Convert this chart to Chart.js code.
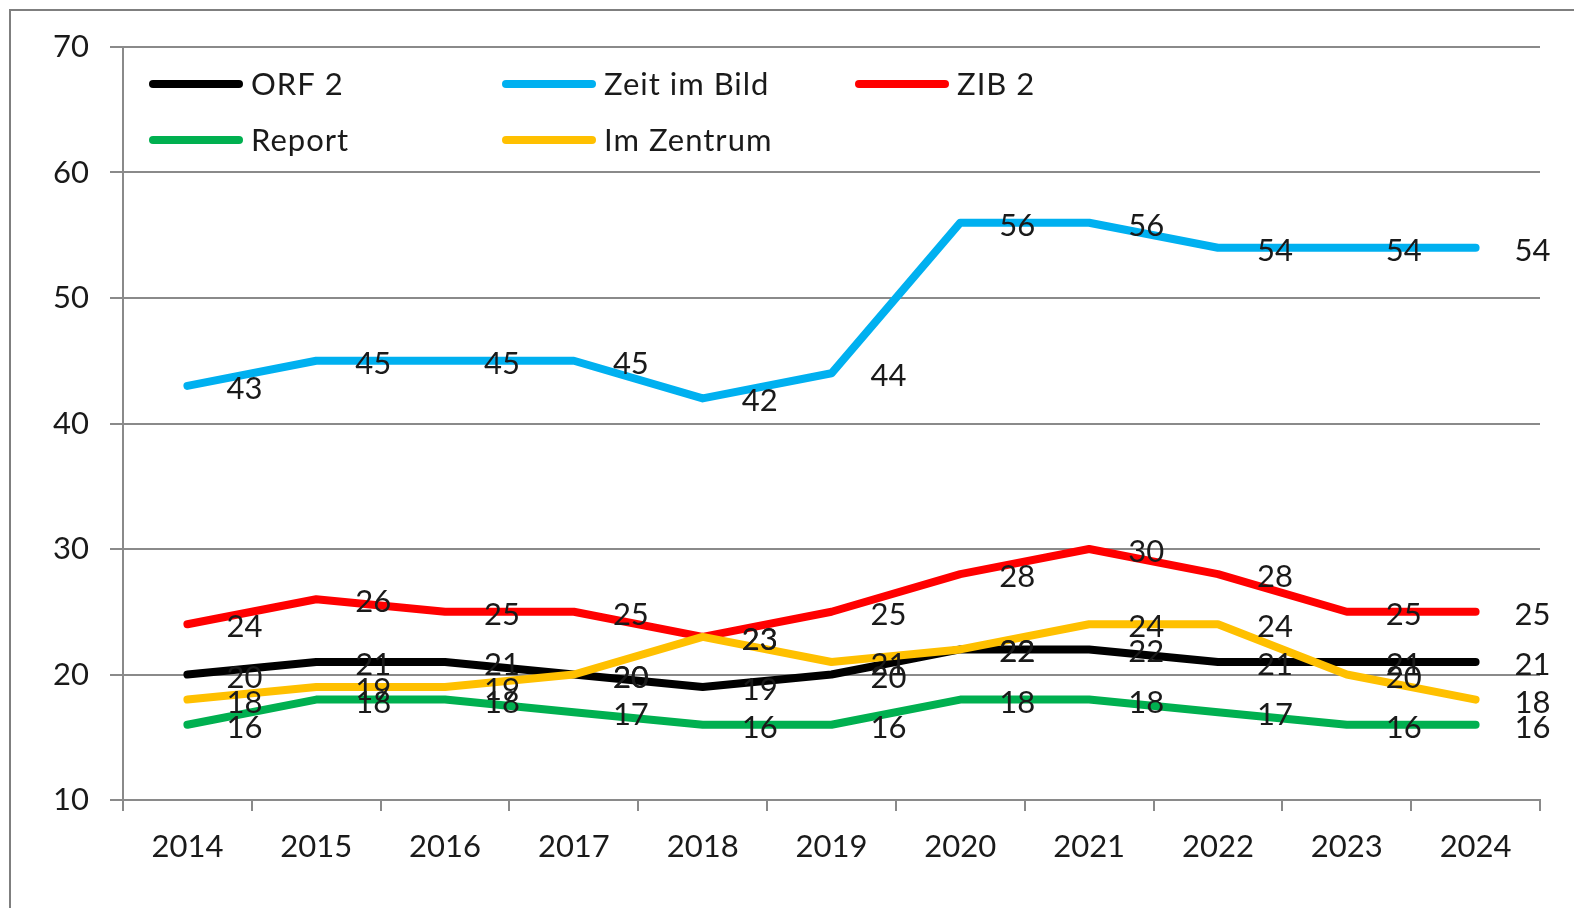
<!DOCTYPE html>
<html>
<head>
<meta charset="utf-8">
<script src="https://cdn.jsdelivr.net/npm/chart.js@4/dist/chart.umd.min.js"></script>
<style>
  html, body { margin: 0; padding: 0; background: #fff; }
  #wrap { position: relative; width: 1574px; height: 908px; }
</style>
</head>
<body>
<div id="wrap"><canvas id="chart" width="1574" height="908"></canvas></div>
<script>
const years = ['2014', '2015', '2016', '2017', '2018', '2019', '2020', '2021', '2022', '2023', '2024'];
const orf2 = [20, 21, 21, 20, 19, 20, 22, 22, 21, 21, 21];
const zeitImBild = [43, 45, 45, 45, 42, 44, 56, 56, 54, 54, 54];
const zib2 = [24, 26, 25, 25, 23, 25, 28, 30, 28, 25, 25];
const report = [16, 18, 18, 17, 16, 16, 18, 18, 17, 16, 16];
const imZentrum = [18, 19, 19, 20, 23, 21, 22, 24, 24, 20, 18];
const yTicks = [10, 20, 30, 40, 50, 60, 70];

const FONT = 'Lato, "Open Sans", sans-serif';
const FSIZE = 31;
const TEXT = '#1a1a1a';
const GRID = '#8a8a8a';

function series(label, data, color, order) {
    return {
        label, data, borderColor: color, backgroundColor: color,
        borderWidth: 8, pointRadius: 0, tension: 0,
        borderCapStyle: 'round', borderJoinStyle: 'round', order
    };
}

// frame around the picture (cut off at right/bottom like the original)
const framePlugin = {
    id: 'frame',
    beforeDraw(chart) {
        const ctx = chart.ctx;
        ctx.save();
        ctx.fillStyle = '#fff';
        ctx.fillRect(0, 0, chart.width, chart.height);
        ctx.strokeStyle = '#7f7f7f';
        ctx.lineWidth = 2;
        ctx.beginPath();
        ctx.moveTo(10, chart.height);
        ctx.lineTo(10, 10);
        ctx.lineTo(chart.width, 10);
        ctx.stroke();
        ctx.restore();
    }
};

// value labels to the right of each point
const labelPlugin = {
    id: 'valueLabels',
    afterDatasetsDraw(chart) {
        const ctx = chart.ctx;
        ctx.save();
        ctx.font = FSIZE + 'px ' + FONT;
        ctx.fillStyle = TEXT;
        ctx.textAlign = 'center';
        ctx.textBaseline = 'middle';
        chart.data.datasets.forEach((ds, i) => {
            chart.getDatasetMeta(i).data.forEach((pt, j) => {
                ctx.fillText(String(ds.data[j]), pt.x + 57, pt.y + 3);
            });
        });
        ctx.restore();
    }
};

// legend drawn inside the plot area, two rows
const legendPlugin = {
    id: 'innerLegend',
    afterDraw(chart) {
        const ctx = chart.ctx;
        const cols = [149, 502, 855];
        const rows = [84, 140];
        const layout = [[0, 0], [1, 0], [2, 0], [0, 1], [1, 1]];
        ctx.save();
        ctx.font = FSIZE + 'px ' + FONT;
        ctx.letterSpacing = '1px';
        ctx.textBaseline = 'middle';
        ctx.textAlign = 'left';
        chart.data.datasets.forEach((ds, i) => {
            const x = cols[layout[i][0]], y = rows[layout[i][1]];
            ctx.strokeStyle = ds.borderColor;
            ctx.lineWidth = 8;
            ctx.lineCap = 'round';
            ctx.beginPath();
            ctx.moveTo(x + 4, y);
            ctx.lineTo(x + 90, y);
            ctx.stroke();
            ctx.fillStyle = TEXT;
            ctx.fillText(ds.label, x + 102, y + 1);
        });
        ctx.restore();
    }
};

new Chart(document.getElementById('chart'), {
    type: 'line',
    data: {
        labels: years,
        datasets: [
            series('ORF 2', orf2, '#000000', 5),
            series('Zeit im Bild', zeitImBild, '#00b0f0', 4),
            series('ZIB 2', zib2, '#ff0000', 3),
            series('Report', report, '#00b050', 2),
            series('Im Zentrum', imZentrum, '#ffc000', 1)
        ]
    },
    options: {
        responsive: false,
        animation: false,
        layout: { padding: { left: 0, top: 47, right: 34, bottom: 0 } },
        plugins: { legend: { display: false }, tooltip: { enabled: false } },
        scales: {
            x: {
                offset: true,
                grid: { offset: true, drawOnChartArea: false, drawTicks: true, tickLength: 11, color: GRID, lineWidth: 2 },
                border: { display: true, color: GRID, width: 2 },
                ticks: { font: { family: FONT, size: FSIZE }, color: TEXT, padding: 17, maxRotation: 0, autoSkip: false },
                afterFit(scale) { scale.height = 108; }
            },
            y: {
                min: 10, max: 70,
                afterBuildTicks(scale) { scale.ticks = yTicks.map(v => ({ value: v })); },
                grid: { color: GRID, lineWidth: 2, tickLength: 13 },
                border: { display: true, color: GRID, width: 2 },
                ticks: { font: { family: FONT, size: FSIZE }, color: TEXT, padding: 21 },
                afterFit(scale) { scale.width = 123; }
            }
        }
    },
    plugins: [framePlugin, labelPlugin, legendPlugin]
});
</script>
</body>
</html>
